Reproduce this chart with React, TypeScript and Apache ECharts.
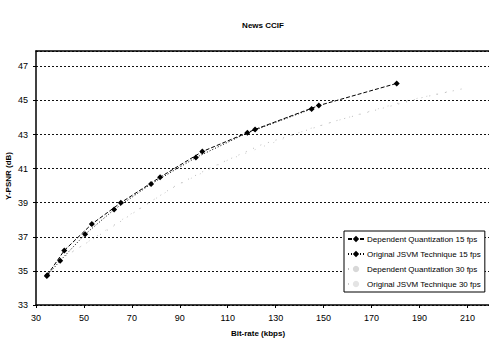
import React, { useEffect, useRef } from "react";
import * as echarts from "echarts";

const seriesNames = [
  "Dependent Quantization 15 fps",
  "Original JSVM Technique 15 fps",
  "Dependent Quantization 30 fps",
  "Original JSVM Technique 30 fps",
];

const depQ15: [number, number][] = [
  [34.7, 34.75], [41.8, 36.2], [53.3, 37.75], [65.4, 39.0], [81.8, 40.5],
  [99.4, 42.0], [121.4, 43.3], [148, 44.7], [180.5, 46.0],
];
const origJSVM15: [number, number][] = [
  [34.5, 34.7], [40.1, 35.6], [50.5, 37.15], [62.6, 38.6], [78, 40.1],
  [96.7, 41.65], [118.2, 43.1], [145, 44.5],
];
const depQ30: [number, number][] = [
  [42.5, 35.9], [59.9, 37.4], [71.7, 38.5], [87, 39.9], [102, 41.0],
  [124, 42.4], [155, 43.8], [192, 45.2], [208.5, 45.7],
];
const origJSVM30: [number, number][] = [
  [45, 36.1], [68, 38.2], [88.6, 40.0], [110, 41.5], [144.3, 43.35],
  [167.5, 44.3], [185, 45.0], [201.5, 45.5],
];

const title = "News CCIF";
const xName = "Bit-rate (kbps)";
const yName = "Y-PSNR (dB)";

const FONT = "Liberation Sans";

export default function App() {
  const ref = useRef<HTMLDivElement>(null);
  useEffect(() => {
    if (!ref.current) return;
    const chart = echarts.init(ref.current, undefined, { renderer: "svg" });
    chart.setOption({
      animation: false,
      backgroundColor: "#fff",
      textStyle: { fontFamily: FONT },
      title: {
        text: title,
        left: 258,
        top: 16,
        textAlign: "center",
        textStyle: { fontSize: 8, fontWeight: "bold", color: "#000", fontFamily: FONT },
      },
      graphic: [
        {
          type: "text",
          x: 258,
          y: 333,
          style: {
            text: xName,
            fontSize: 8,
            fontWeight: "bold",
            fontFamily: FONT,
            fill: "#000",
            align: "center",
            verticalAlign: "middle",
          },
        },
        {
          type: "text",
          x: 8,
          y: 176,
          rotation: Math.PI / 2,
          style: {
            text: yName,
            fontSize: 8,
            fontWeight: "bold",
            fontFamily: FONT,
            fill: "#000",
            align: "center",
            verticalAlign: "middle",
          },
        },
      ],
      grid: { left: 36, right: 0, top: 51, bottom: 35, outerBoundsMode: "none", containLabel: false },
      legend: {
        orient: "vertical",
        left: 344,
        top: 231,
        backgroundColor: "#fff",
        borderColor: "#000",
        borderWidth: 1,
        padding: [4, 4, 4, 3],
        itemGap: 7,
        itemWidth: 16,
        itemHeight: 8,
        textStyle: { fontSize: 8, color: "#000", fontFamily: FONT, padding: [0, 0, 0, -2] },
        data: seriesNames,
      },
      xAxis: [
        {
          type: "value",
          min: 30,
          max: 219,
          interval: 20,
          axisLine: { show: true, lineStyle: { color: "#000", width: 1.5 } },
          axisTick: { show: true, length: 3, lineStyle: { color: "#000" } },
          axisLabel: { fontSize: 9, color: "#000", margin: 8, showMaxLabel: false, fontFamily: FONT },
          splitLine: { show: false },
        },
        {
          type: "value",
          position: "top",
          min: 30,
          max: 219,
          axisLine: { show: true, onZero: false, lineStyle: { color: "#000", width: 1.5 } },
          axisTick: { show: false },
          axisLabel: { show: false },
          splitLine: { show: false },
        },
      ],
      yAxis: {
        type: "value",
        min: 33,
        max: 47.9,
        interval: 2,
        axisLine: { show: true, lineStyle: { color: "#000", width: 1.5 } },
        axisTick: { show: true, length: 3, inside: false, lineStyle: { color: "#000" } },
        axisLabel: { fontSize: 9, color: "#000", margin: 8, showMaxLabel: false, fontFamily: FONT },
        splitLine: { show: true, lineStyle: { color: "#111", type: [2, 2], width: 1 } },
      },
      series: [
        {
          name: seriesNames[0],
          type: "line",
          data: depQ15,
          symbol: "diamond",
          symbolSize: 6,
          itemStyle: { color: "#000" },
          lineStyle: { color: "#000", width: 1, type: [4, 2] },
          z: 5,
        },
        {
          name: seriesNames[1],
          type: "line",
          data: origJSVM15,
          symbol: "diamond",
          symbolSize: 6,
          itemStyle: { color: "#000" },
          lineStyle: { color: "#000", width: 1, type: [1, 2] },
          z: 4,
        },
        {
          name: seriesNames[2],
          type: "line",
          data: depQ30,
          symbol: "none",
          itemStyle: { color: "#d8d8d8" },
          lineStyle: { color: "#bbb", width: 1, type: [1, 7] },
          z: 3,
        },
        {
          name: seriesNames[3],
          type: "line",
          data: origJSVM30,
          symbol: "none",
          itemStyle: { color: "#e4e4e4" },
          lineStyle: { color: "#ccc", width: 1, type: [1, 9] },
          z: 3,
        },
      ],
    });
    return () => chart.dispose();
  }, []);
  return (
    <div
      ref={ref}
      style={{ position: "absolute", left: 0, top: 0, width: 489, height: 340 }}
    />
  );
}
